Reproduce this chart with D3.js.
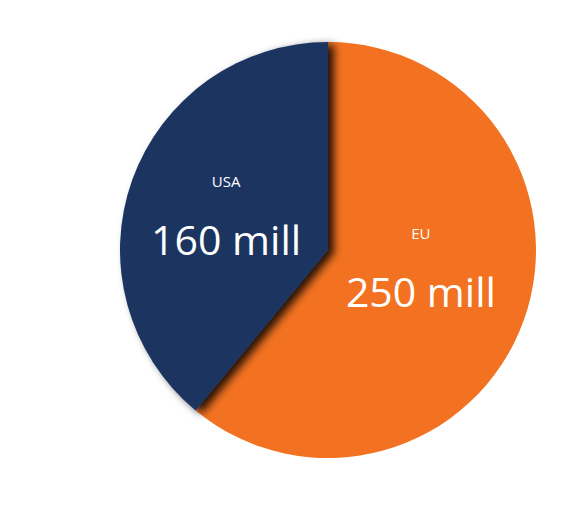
<!DOCTYPE html>
<html>
<head>
<meta charset="utf-8">
<script src="https://cdn.jsdelivr.net/npm/d3@7"></script>
<style>
  body { margin: 0; background: #fff; }
  text { font-family: "Open Sans", sans-serif; fill: #fff; }
</style>
</head>
<body>
<svg width="588" height="517"></svg>
<script>
const REGIONS = ["EU", "USA"];
const VALUES = [250, 160];
const VALUE_LABELS = ["250 mill", "160 mill"];
const COLORS = ["#f37221", "#1d3461"];

// small nudges so labels sit where the original put them
const labelNudge = {EU: [-5, -18], USA: [-4, 0]};

const svg = d3.select("svg");
const cx = 328, cy = 250, radius = 208;

const defs = svg.append("defs");
const filt = defs.append("filter")
  .attr("id", "shadow")
  .attr("x", "-20%").attr("y", "-20%")
  .attr("width", "140%").attr("height", "140%");
filt.append("feDropShadow")
  .attr("dx", 6).attr("dy", 3)
  .attr("stdDeviation", 4.5)
  .attr("flood-color", "#000")
  .attr("flood-opacity", 0.85);

const data = REGIONS.map((r, i) => ({region: r, value: VALUES[i], label: VALUE_LABELS[i], color: COLORS[i]}));

const pie = d3.pie()
  .value(d => d.value)
  .sort(null);

const arc = d3.arc().innerRadius(0).outerRadius(radius);
const labelArc = d3.arc().innerRadius(0).outerRadius(radius);

const g = svg.append("g").attr("transform", `translate(${cx},${cy})`);

const arcs = pie(data);

g.selectAll(".slice")
  .data(arcs)
  .enter()
  .append("path")
  .classed("slice", true)
  .attr("d", arc)
  .attr("fill", d => d.data.color)
  .attr("filter", d => d.data.region === "USA" ? "url(#shadow)" : null);

const labels = g.selectAll(".lbl")
  .data(arcs)
  .enter()
  .append("g")
  .classed("lbl", true)
  .attr("transform", d => {
    const c = labelArc.centroid(d);
    const n = labelNudge[d.data.region];
    return `translate(${c[0] + n[0]},${c[1] + n[1]})`;
  });

labels.append("text")
  .attr("text-anchor", "middle")
  .attr("y", -28)
  .style("font-size", "15px")
  .text(d => d.data.region);

labels.append("text")
  .attr("text-anchor", "middle")
  .attr("y", 40)
  .style("font-size", "41px")
  .text(d => d.data.label);
</script>
</body>
</html>
